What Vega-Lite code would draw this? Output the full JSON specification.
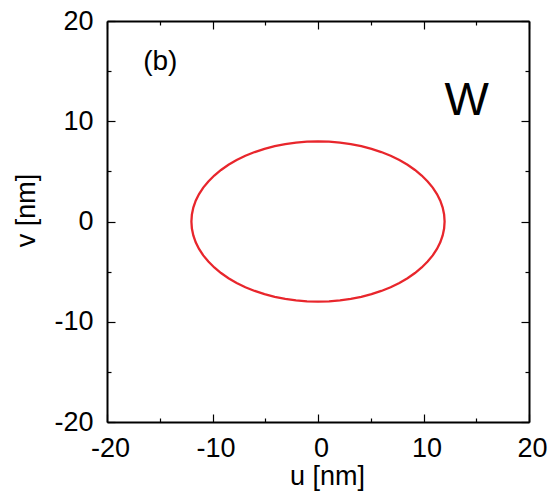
{
  "$schema": "https://vega.github.io/schema/vega-lite/v6.json",
  "width": 422,
  "height": 401,
  "autosize": {"type": "none"},
  "padding": {"left": 107, "top": 21, "right": 22, "bottom": 70},
  "background": "white",
  "config": {
    "view": {"stroke": null},
    "font": "Liberation Sans",
    "axis": {"grid": false, "labelFont": "Liberation Sans", "titleFont": "Liberation Sans", "labelFontSize": 27, "titleFontSize": 27, "titleFontWeight": "normal", "labelColor": "black", "titleColor": "black", "tickColor": "black", "domainColor": "black", "domainWidth": 2, "tickWidth": 1.2,
             "labelExpr": "datum.value < 0 ? '-' + abs(datum.value) : '' + datum.value"}
  },
  "datasets": {
    "ellipse": [
      {"i": 0, "u": 12.0, "v": 0.0}, {"i": 1, "u": 11.954, "v": 0.697}, {"i": 2, "u": 11.818, "v": 1.389}, {"i": 3, "u": 11.591, "v": 2.071},
      {"i": 4, "u": 11.276, "v": 2.736}, {"i": 5, "u": 10.876, "v": 3.381}, {"i": 6, "u": 10.392, "v": 4.0}, {"i": 7, "u": 9.83, "v": 4.589},
      {"i": 8, "u": 9.192, "v": 5.142}, {"i": 9, "u": 8.485, "v": 5.657}, {"i": 10, "u": 7.713, "v": 6.128}, {"i": 11, "u": 6.883, "v": 6.553},
      {"i": 12, "u": 6.0, "v": 6.928}, {"i": 13, "u": 5.071, "v": 7.25}, {"i": 14, "u": 4.104, "v": 7.518}, {"i": 15, "u": 3.106, "v": 7.727},
      {"i": 16, "u": 2.084, "v": 7.878}, {"i": 17, "u": 1.046, "v": 7.97}, {"i": 18, "u": 0.0, "v": 8.0},
      {"i": 19, "u": -1.046, "v": 7.97}, {"i": 20, "u": -2.084, "v": 7.878}, {"i": 21, "u": -3.106, "v": 7.727}, {"i": 22, "u": -4.104, "v": 7.518},
      {"i": 23, "u": -5.071, "v": 7.25}, {"i": 24, "u": -6.0, "v": 6.928}, {"i": 25, "u": -6.883, "v": 6.553}, {"i": 26, "u": -7.713, "v": 6.128},
      {"i": 27, "u": -8.485, "v": 5.657}, {"i": 28, "u": -9.192, "v": 5.142}, {"i": 29, "u": -9.83, "v": 4.589}, {"i": 30, "u": -10.392, "v": 4.0},
      {"i": 31, "u": -10.876, "v": 3.381}, {"i": 32, "u": -11.276, "v": 2.736}, {"i": 33, "u": -11.591, "v": 2.071}, {"i": 34, "u": -11.818, "v": 1.389},
      {"i": 35, "u": -11.954, "v": 0.697}, {"i": 36, "u": -12.0, "v": 0.0},
      {"i": 37, "u": -11.954, "v": -0.697}, {"i": 38, "u": -11.818, "v": -1.389}, {"i": 39, "u": -11.591, "v": -2.071}, {"i": 40, "u": -11.276, "v": -2.736},
      {"i": 41, "u": -10.876, "v": -3.381}, {"i": 42, "u": -10.392, "v": -4.0}, {"i": 43, "u": -9.83, "v": -4.589}, {"i": 44, "u": -9.192, "v": -5.142},
      {"i": 45, "u": -8.485, "v": -5.657}, {"i": 46, "u": -7.713, "v": -6.128}, {"i": 47, "u": -6.883, "v": -6.553}, {"i": 48, "u": -6.0, "v": -6.928},
      {"i": 49, "u": -5.071, "v": -7.25}, {"i": 50, "u": -4.104, "v": -7.518}, {"i": 51, "u": -3.106, "v": -7.727}, {"i": 52, "u": -2.084, "v": -7.878},
      {"i": 53, "u": -1.046, "v": -7.97}, {"i": 54, "u": 0.0, "v": -8.0},
      {"i": 55, "u": 1.046, "v": -7.97}, {"i": 56, "u": 2.084, "v": -7.878}, {"i": 57, "u": 3.106, "v": -7.727}, {"i": 58, "u": 4.104, "v": -7.518},
      {"i": 59, "u": 5.071, "v": -7.25}, {"i": 60, "u": 6.0, "v": -6.928}, {"i": 61, "u": 6.883, "v": -6.553}, {"i": 62, "u": 7.713, "v": -6.128},
      {"i": 63, "u": 8.485, "v": -5.657}, {"i": 64, "u": 9.192, "v": -5.142}, {"i": 65, "u": 9.83, "v": -4.589}, {"i": 66, "u": 10.392, "v": -4.0},
      {"i": 67, "u": 10.876, "v": -3.381}, {"i": 68, "u": 11.276, "v": -2.736}, {"i": 69, "u": 11.591, "v": -2.071}, {"i": 70, "u": 11.818, "v": -1.389},
      {"i": 71, "u": 11.954, "v": -0.697}, {"i": 72, "u": 12.0, "v": 0.0}
    ],
    "labels": [
      {"u": 14.1, "v": 10.6, "text": "W", "size": "big"},
      {"u": -14.95, "v": 15.96, "text": "(b)", "size": "small"}
    ]
  },
  "layer": [
    {
      "data": {"name": "ellipse"},
      "mark": {"type": "line", "color": "#e8262c", "strokeWidth": 2.3},
      "encoding": {
        "x": {"field": "u", "type": "quantitative", "scale": {"domain": [-20, 20], "nice": false, "zero": false},
              "axis": {"orient": "bottom", "values": [-20, -10, 0, 10, 20], "tickSize": -8, "labelPadding": 21, "labelOffset": 3, "title": "u [nm]", "titleX": 220, "titleY": 62, "titleBaseline": "alphabetic", "labelFlush": false}},
        "y": {"field": "v", "type": "quantitative", "scale": {"domain": [-20, 20], "nice": false, "zero": false},
              "axis": {"orient": "left", "values": [-20, -10, 0, 10, 20], "tickSize": -8, "labelPadding": 22, "title": "v [nm]", "titleX": -73, "titleY": 189, "titleBaseline": "alphabetic", "titleAngle": -90, "labelFlush": false}},
        "order": {"field": "i", "type": "quantitative"}
      }
    },
    {
      "data": {"name": "ellipse"},
      "mark": {"type": "line", "strokeOpacity": 0},
      "encoding": {
        "x": {"field": "u", "type": "quantitative", "axis": {"orient": "top", "values": [-20, -10, 0, 10, 20], "tickSize": -8, "labels": false, "title": null}},
        "y": {"field": "v", "type": "quantitative", "axis": {"orient": "right", "values": [-20, -10, 0, 10, 20], "tickSize": -8, "labels": false, "title": null}},
        "order": {"field": "i", "type": "quantitative"}
      }
    },
    {
      "data": {"name": "ellipse"},
      "mark": {"type": "line", "strokeOpacity": 0},
      "encoding": {
        "x": {"field": "u", "type": "quantitative", "axis": {"orient": "bottom", "values": [-15, -5, 5, 15], "tickSize": -4, "labels": false, "domain": false, "title": null}},
        "y": {"field": "v", "type": "quantitative", "axis": {"orient": "left", "values": [-15, -5, 5, 15], "tickSize": -4, "labels": false, "domain": false, "title": null}},
        "order": {"field": "i", "type": "quantitative"}
      }
    },
    {
      "data": {"name": "ellipse"},
      "mark": {"type": "line", "strokeOpacity": 0},
      "encoding": {
        "x": {"field": "u", "type": "quantitative", "axis": {"orient": "top", "values": [-15, -5, 5, 15], "tickSize": -4, "labels": false, "domain": false, "title": null}},
        "y": {"field": "v", "type": "quantitative", "axis": {"orient": "right", "values": [-15, -5, 5, 15], "tickSize": -4, "labels": false, "domain": false, "title": null}},
        "order": {"field": "i", "type": "quantitative"}
      }
    },
    {
      "data": {"name": "labels"},
      "transform": [{"filter": "datum.size == 'big'"}],
      "mark": {"type": "text", "fontSize": 47, "align": "center", "baseline": "alphabetic", "color": "black"},
      "encoding": {
        "x": {"field": "u", "type": "quantitative", "axis": null},
        "y": {"field": "v", "type": "quantitative", "axis": null},
        "text": {"field": "text"}
      }
    },
    {
      "data": {"name": "labels"},
      "transform": [{"filter": "datum.size == 'small'"}],
      "mark": {"type": "text", "fontSize": 28, "align": "center", "baseline": "middle", "color": "black"},
      "encoding": {
        "x": {"field": "u", "type": "quantitative", "axis": null},
        "y": {"field": "v", "type": "quantitative", "axis": null},
        "text": {"field": "text"}
      }
    }
  ],
  "resolve": {"axis": {"x": "independent", "y": "independent"}}
}
